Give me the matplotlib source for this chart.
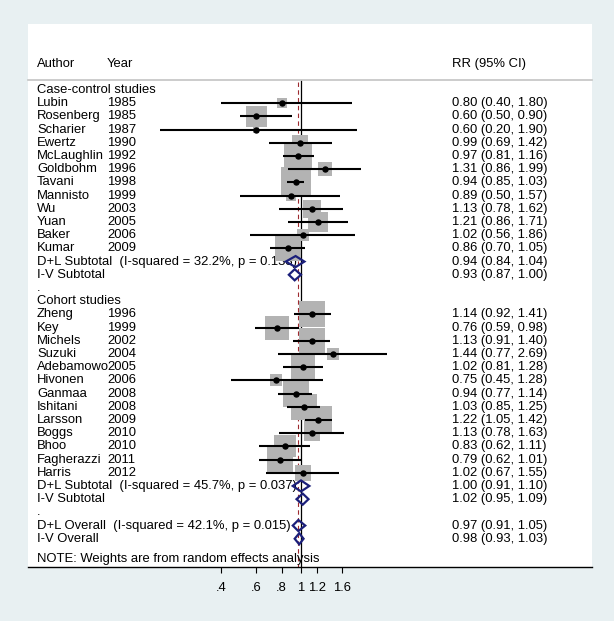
import numpy as np
import matplotlib
matplotlib.use("Agg")
import matplotlib.pyplot as plt
from matplotlib.patches import Polygon
from matplotlib.transforms import blended_transform_factory

plt.rcParams['font.family'] = ['Liberation Sans', 'DejaVu Sans']

# study level data
cc_author = ['Lubin', 'Rosenberg', 'Scharier', 'Ewertz', 'McLaughlin', 'Goldbohm',
             'Tavani', 'Mannisto', 'Wu', 'Yuan', 'Baker', 'Kumar']
cc_year = [1985, 1985, 1987, 1990, 1992, 1996, 1998, 1999, 2003, 2005, 2006, 2009]
cc_rr = [0.80, 0.60, 0.60, 0.99, 0.97, 1.31, 0.94, 0.89, 1.13, 1.21, 1.02, 0.86]
cc_lo = [0.40, 0.50, 0.20, 0.69, 0.81, 0.86, 0.85, 0.50, 0.78, 0.86, 0.56, 0.70]
cc_hi = [1.80, 0.90, 1.90, 1.42, 1.16, 1.99, 1.03, 1.57, 1.62, 1.71, 1.86, 1.05]
cc_w = [0.74, 4.0, 0.33, 2.6, 7.1, 2.0, 8.7, 0.9, 2.9, 3.3, 1.5, 5.7]

co_author = ['Zheng', 'Key', 'Michels', 'Suzuki', 'Adebamowo', 'Hivonen', 'Ganmaa',
             'Ishitani', 'Larsson', 'Boggs', 'Bhoo', 'Fagherazzi', 'Harris']
co_year = [1996, 1999, 2002, 2004, 2005, 2006, 2008, 2008, 2009, 2010, 2010, 2011, 2012]
co_rr = [1.14, 0.76, 1.13, 1.44, 1.02, 0.75, 0.94, 1.03, 1.22, 1.13, 0.83, 0.79, 1.02]
co_lo = [0.92, 0.59, 0.91, 0.77, 0.81, 0.45, 0.77, 0.85, 1.05, 0.78, 0.62, 0.62, 0.67]
co_hi = [1.41, 0.98, 1.40, 2.69, 1.28, 1.28, 1.14, 1.25, 1.42, 1.63, 1.11, 1.01, 1.55]
co_w = [6.1, 5.2, 6.1, 1.3, 5.2, 1.5, 5.7, 6.1, 7.6, 2.6, 4.4, 5.7, 2.3]

# pooled estimates: (label, rr, lo, hi)
cc_pooled = [('D+L Subtotal  (I-squared = 32.2%, p = 0.133)', 0.94, 0.84, 1.04),
             ('I-V Subtotal', 0.93, 0.87, 1.00)]
co_pooled = [('D+L Subtotal  (I-squared = 45.7%, p = 0.037)', 1.00, 0.91, 1.10),
             ('I-V Subtotal', 1.02, 0.95, 1.09)]
all_pooled = [('D+L Overall  (I-squared = 42.1%, p = 0.015)', 0.97, 0.91, 1.05),
              ('I-V Overall', 0.98, 0.93, 1.03)]

ticks = [0.4, 0.6, 0.8, 1, 1.2, 1.6]
tick_labels = ['.4', '.6', '.8', '1', '1.2', '1.6']

# build row list
rows = []
rows.append(('head', 'Case-control studies'))
for i in range(len(cc_author)):
    rows.append(('study', cc_author[i], cc_year[i], cc_rr[i], cc_lo[i], cc_hi[i], cc_w[i]))
for p in cc_pooled:
    rows.append(('pool',) + p)
rows.append(('dot', '.'))
rows.append(('head', 'Cohort studies'))
for i in range(len(co_author)):
    rows.append(('study', co_author[i], co_year[i], co_rr[i], co_lo[i], co_hi[i], co_w[i]))
for p in co_pooled:
    rows.append(('pool',) + p)
rows.append(('dot', '.'))
for p in all_pooled:
    rows.append(('pool',) + p)

bg = '#e8f0f2'
fig = plt.figure(figsize=(6.14, 6.21), dpi=100, facecolor=bg)
ax = fig.add_axes([28 / 614, 1 - 567 / 621, 564 / 614, 543 / 621])
ax.set_facecolor('white')
ax.set_xscale('log')
ax.set_xlim(np.exp(-273 / 87.3), np.exp(291 / 87.3))
ax.set_ylim(36.14, -5.0)

tr = blended_transform_factory(ax.transAxes, ax.transData)
fs = 9.4
x_auth, x_year, x_ci = 9 / 564, 79 / 564, 424 / 564

overall_rr = all_pooled[0][1]

# header and separator
ax.text(x_auth, -2, 'Author', transform=tr, fontsize=fs, va='center')
ax.text(x_year, -2, 'Year', transform=tr, fontsize=fs, va='center')
ax.text(x_ci, -2, 'RR (95% CI)', transform=tr, fontsize=fs, va='center')
ax.plot([0, 1], [-0.76, -0.76], transform=tr, color='#c4c4c4', lw=1.2, clip_on=False)

# null line and overall line
ax.vlines(1, -0.76, 36.14, color='black', lw=0.9, zorder=1)
ax.vlines(overall_rr, -0.6, 36.14, color='#9e2a2f', lw=0.8, linestyles=(0, (4, 3)), zorder=1)

for r, row in enumerate(rows):
    kind = row[0]
    if kind in ('head', 'dot'):
        ax.text(x_auth, r, row[1], transform=tr, fontsize=fs, va='center')
    elif kind == 'study':
        _, name, yr, rr, lo, hi, w = row
        ax.text(x_auth, r, name, transform=tr, fontsize=fs, va='center')
        ax.text(x_year, r, str(yr), transform=tr, fontsize=fs, va='center')
        ax.text(x_ci, r, '%.2f (%.2f, %.2f)' % (rr, lo, hi), transform=tr, fontsize=fs, va='center')
        side = 10.5 * np.sqrt(w) * 0.72
        ax.scatter([rr], [r], s=side ** 2, marker='s', color='#b3b3b3', linewidths=0, zorder=2)
        ax.hlines(r, lo, hi, color='black', lw=1.5, zorder=3)
        ax.plot([rr], [r], 'o', color='black', ms=3.6, zorder=4)
    else:
        _, label, rr, lo, hi = row
        ax.text(x_auth, r, label, transform=tr, fontsize=fs, va='center', zorder=1)
        ax.text(x_ci, r, '%.2f (%.2f, %.2f)' % (rr, lo, hi), transform=tr, fontsize=fs, va='center')
        h = 0.42
        dia = Polygon([(lo, r), (rr, r - h), (hi, r), (rr, r + h)], closed=True,
                      fill=False, edgecolor='#1b1f7a', lw=1.6, zorder=5)
        ax.add_patch(dia)

ax.text(x_auth, 35.5, 'NOTE: Weights are from random effects analysis', transform=tr,
        fontsize=fs, va='center')

for s in ['top', 'right', 'left']:
    ax.spines[s].set_visible(False)
ax.spines['bottom'].set_linewidth(1.0)
ax.set_yticks([])
ax.xaxis.set_minor_locator(matplotlib.ticker.NullLocator())
ax.set_xticks(ticks)
ax.set_xticklabels(tick_labels)
ax.tick_params(axis='x', length=4.3, width=0.8, pad=6.5, labelsize=fs, colors='black')

fig.savefig('out.png', dpi=100, facecolor=bg)
